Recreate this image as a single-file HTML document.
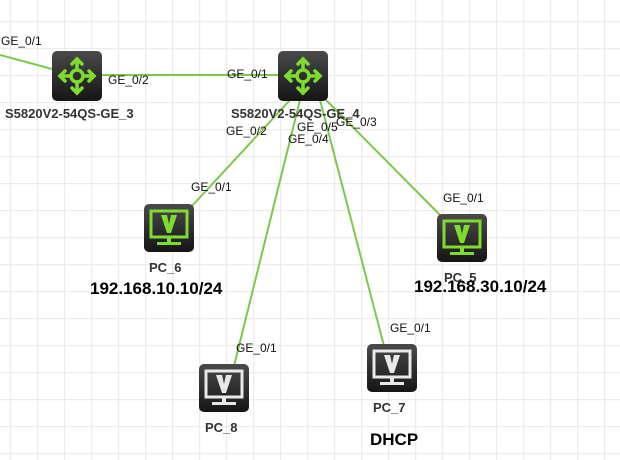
<!DOCTYPE html>
<html><head><style>
html,body{margin:0;padding:0;background:#fff;}
svg{display:block;font-family:"Liberation Sans",Arial,sans-serif;}
</style></head><body>
<svg width="620" height="460" viewBox="0 0 620 460" xmlns="http://www.w3.org/2000/svg">
<defs>
<pattern id="g" width="27" height="27" patternUnits="userSpaceOnUse" x="10" y="-6">
<path d="M0 0H27M0 0V27" stroke="#ececec" stroke-width="2.5" fill="none"/>
</pattern>
<linearGradient id="dk" x1="0" y1="0" x2="0" y2="1"><stop offset="0" stop-color="#4a4a4a"/><stop offset="1" stop-color="#151515"/></linearGradient>
<g id="sw">
<rect x="0" y="0" width="50" height="50" rx="5" fill="url(#dk)"/>
<g stroke="#7ddc2e" stroke-width="3.5" fill="none" stroke-linecap="round">
<circle cx="25" cy="25" r="6"/>
<path d="M25 8V19M25 31V42M8 25H19M31 25H42"/>
<path d="M20 13L25 8L30 13M20 37L25 42L30 37M13 20L8 25L13 30M37 20L42 25L37 30"/>
</g></g>
<g id="pcg">
<rect x="0" y="0" width="50" height="48" rx="5" fill="url(#dk)"/>
<rect x="7" y="7" width="36" height="26" fill="none" stroke="#7ddc2e" stroke-width="3"/>
<polygon points="17,11 23,11 25,20 27,11 33,11 27,29 23,29" fill="#7ddc2e"/>
<rect x="13" y="38" width="24" height="3" fill="#7ddc2e"/><rect x="23" y="33" width="4" height="6" fill="#7ddc2e"/>
</g>
<g id="pcw">
<rect x="0" y="0" width="50" height="48" rx="5" fill="url(#dk)"/>
<rect x="7" y="7" width="36" height="26" fill="none" stroke="#e8e8e8" stroke-width="3"/>
<polygon points="17,11 23,11 25,20 27,11 33,11 27,29 23,29" fill="#e8e8e8"/>
<rect x="13" y="38" width="24" height="3" fill="#e8e8e8"/><rect x="23" y="33" width="4" height="6" fill="#e8e8e8"/>
</g>
</defs>
<rect width="620" height="460" fill="url(#g)"/>
<g stroke="#7cc84a" stroke-width="2">
<line x1="0" y1="55" x2="52" y2="69"/>
<line x1="102" y1="75" x2="278" y2="75"/>
<line x1="290" y1="100" x2="192" y2="206"/>
<line x1="300" y1="100" x2="234" y2="366"/>
<line x1="320" y1="100" x2="384" y2="346"/>
<line x1="326" y1="100" x2="440" y2="215"/>
</g>
<use href="#sw" x="52" y="51"/>
<use href="#sw" x="278" y="51"/>
<use href="#pcg" x="144" y="204"/>
<use href="#pcg" x="437" y="214"/>
<use href="#pcw" x="199" y="364"/>
<use href="#pcw" x="367" y="344"/>
<g font-size="12" fill="#111">
<text x="1" y="45">GE_0/1</text>
<text x="108" y="84">GE_0/2</text>
<text x="227" y="78">GE_0/1</text>
<text x="226" y="135">GE_0/2</text>
<text x="297" y="131">GE_0/5</text>
<text x="336" y="126">GE_0/3</text>
<text x="288" y="143">GE_0/4</text>
<text x="191" y="191">GE_0/1</text>
<text x="443" y="202">GE_0/1</text>
<text x="236" y="352">GE_0/1</text>
<text x="390" y="332">GE_0/1</text>
</g>
<g font-size="13" font-weight="bold" fill="#333">
<text x="5" y="118">S5820V2-54QS-GE_3</text>
<text x="231" y="118">S5820V2-54QS-GE_4</text>
<text x="149" y="272">PC_6</text>
<text x="444" y="282">PC_5</text>
<text x="205" y="432">PC_8</text>
<text x="373" y="412">PC_7</text>
</g>
<g font-size="17" font-weight="bold" fill="#000">
<text x="90" y="294">192.168.10.10/24</text>
<text x="414" y="292">192.168.30.10/24</text>
<text x="370" y="445">DHCP</text>
</g>
</svg>
</body></html>
